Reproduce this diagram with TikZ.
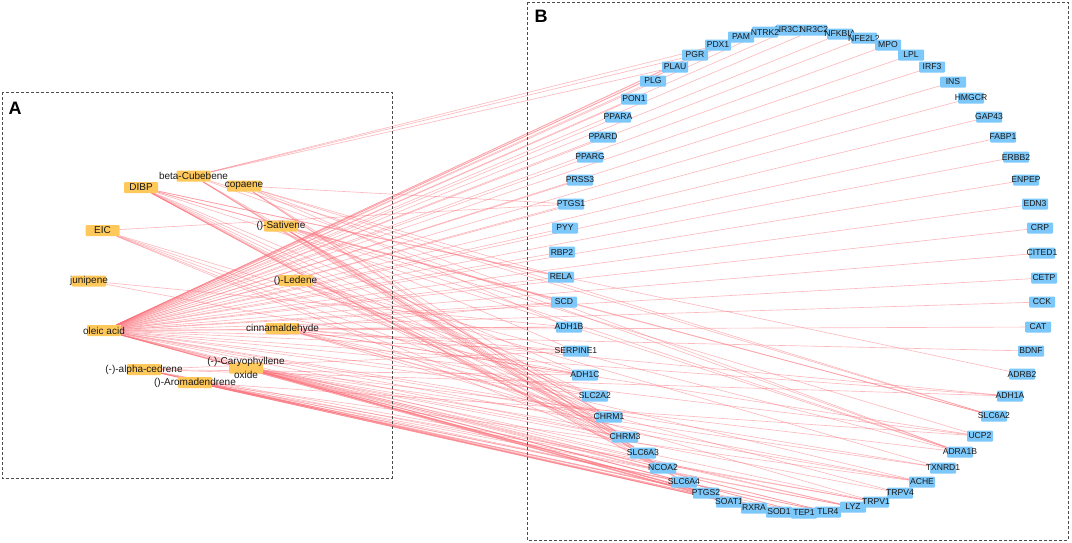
\documentclass[tikz,border=0pt]{standalone}
\usepackage{fontspec}
\setmainfont{Liberation Sans}
\usetikzlibrary{backgrounds}
\definecolor{cOr}{RGB}{255,200,90}
\definecolor{cBl}{RGB}{125,200,250}
\definecolor{cEd}{RGB}{250,110,120}
\definecolor{cTx}{RGB}{25,25,25}
\tikzset{
  cmp/.style={fill=cOr, minimum width=34pt, minimum height=11pt, inner sep=0pt, rounded corners=1pt},
  tgt/.style={fill=cBl, minimum width=26pt, minimum height=11pt, inner sep=0pt, rounded corners=1pt},
  clab/.style={font=\fontsize{10}{14}\selectfont, text=cTx, inner sep=0pt},
  tlab/.style={font=\fontsize{8.6}{10}\selectfont, text=cTx, inner sep=0pt},
  edge/.style={draw=cEd, line width=0.65pt, opacity=0.48},
  frame/.style={draw=black!70, dash pattern=on 3pt off 2pt, line width=0.8pt},
  panel/.style={font=\bfseries\fontsize{18}{18}\selectfont, inner sep=0pt}
}
\newcommand{\tg}[3]{\node[tgt, label={[tlab]center:#1}] (#1) at (#2,#3) {};}
\begin{document}
\begin{tikzpicture}[x=1pt, y=-1pt]
\useasboundingbox (0,0) rectangle (1072,542);
% frames
\draw[frame] (2,92) rectangle (392,478);
\draw[frame] (527,2) rectangle (1068,540);
\node[panel] (labA) at (15,108) {A};
\node[panel] (labB) at (541,16) {B};
% compounds
\node[cmp, label={[clab]center:beta-Cubebene}] (bcub) at (193.5,176) {};
\node[cmp, label={[clab]center:DIBP}] (dibp) at (141,187.5) {};
\node[cmp, label={[clab]center:copaene}] (copa) at (244,186) {};
\node[cmp, label={[clab]center:EIC}] (eic) at (102.5,230.5) {};
\node[cmp, label={[clab]center:{()-Sativene}}] (sati) at (281,226) {};
\node[cmp, label={[clab]center:junipene}] (juni) at (89,281) {};
\node[cmp, label={[clab]center:{()-Ledene}}] (lede) at (295.5,280.5) {};
\node[cmp, label={[clab]center:oleic acid}] (olei) at (104,330.5) {};
\node[cmp, label={[clab]center:cinnamaldehyde}] (cinn) at (282.5,328.5) {};
\node[cmp, label={[clab]center:{(-)-alpha-cedrene}}] (cedr) at (144,369.5) {};
\node[cmp, label={[clab]center:{()-Aromadendrene}}] (arom) at (195,382.5) {};
\node[cmp, label={[clab, align=center]center:{(-)-Caryophyllene\\oxide}}] (cary) at (246,368) {};
% targets
\tg{PDX1}{718}{45}
\tg{PGR}{695}{55}
\tg{PLAU}{675}{67}
\tg{PLG}{653}{81}
\tg{PON1}{634}{99}
\tg{PPARA}{618}{117}
\tg{PPARD}{603}{137}
\tg{PPARG}{590}{157}
\tg{PRSS3}{580}{180}
\tg{PTGS1}{571}{204}
\tg{PYY}{565}{228}
\tg{RBP2}{562}{252}
\tg{RELA}{561}{277}
\tg{SCD}{564}{302}
\tg{ADH1B}{569}{327}
\tg{SERPINE1}{576}{351}
\tg{ADH1C}{585}{375}
\tg{SLC2A2}{595}{396}
\tg{CHRM1}{609}{417}
\tg{CHRM3}{625}{437}
\tg{SLC6A3}{643}{453}
\tg{NCOA2}{663}{468}
\tg{SLC6A4}{684}{482}
\tg{PTGS2}{706}{493}
\tg{SOAT1}{729}{502}
\tg{RXRA}{754}{508}
\tg{SOD1}{779}{512}
\tg{TEP1}{804}{513}
\tg{TLR4}{828}{512}
\tg{LYZ}{853}{507}
\tg{TRPV1}{876}{502}
\tg{TRPV4}{900}{493}
\tg{ACHE}{922}{482}
\tg{TXNRD1}{943}{468}
\tg{ADRA1B}{960}{452}
\tg{UCP2}{980}{436}
\tg{SLC6A2}{994}{416}
\tg{ADH1A}{1010}{396}
\tg{ADRB2}{1022}{374}
\tg{BDNF}{1031}{351}
\tg{CAT}{1038}{327}
\tg{CCK}{1042}{302}
\tg{CETP}{1044}{278}
\tg{CITED1}{1042}{253}
\tg{CRP}{1040}{228}
\tg{EDN3}{1035}{204}
\tg{ENPEP}{1026}{180}
\tg{ERBB2}{1016}{157}
\tg{FABP1}{1003}{137}
\tg{GAP43}{989}{117}
\tg{HMGCR}{971}{98}
\tg{INS}{953}{82}
\tg{IRF3}{932}{67}
\tg{LPL}{911}{55}
\tg{PAM}{741}{37}
\tg{NR3C1}{789}{30}
\tg{NTRK2}{765}{32}
\tg{NR3C2}{814}{30}
\tg{NFKBIA}{840}{34}
\tg{NFE2L2}{864}{38}
\tg{MPO}{888}{45}
% edges
\begin{pgfonlayer}{background}
\foreach \t in {PLG,PON1,PPARA,PPARD,PPARG,PRSS3,PTGS1,PYY,RBP2,RELA,SCD,ADH1B,PLAU,PGR,PDX1,PAM,NTRK2,NR3C1,NR3C2,NFKBIA,NFE2L2,MPO,LPL,IRF3,INS,HMGCR,GAP43,FABP1,ERBB2,ENPEP,EDN3,CRP,CITED1,CETP,CCK,CAT,BDNF,ADH1A,UCP2,SERPINE1,ADH1C,SLC2A2,CHRM1,CHRM3,NCOA2,PTGS2,SOAT1,RXRA,SOD1,TEP1,TLR4,LYZ,ACHE,TXNRD1}
  \draw[edge] (olei) -- (\t);
\foreach \t in {PDX1,PGR,PLAU,CHRM1,CHRM3,SLC6A3,SLC6A2,ADRA1B,NCOA2}
  \draw[edge] (bcub) -- (\t);
\foreach \t in {CHRM1,CHRM3,SLC6A3,SLC6A4,NCOA2,SLC2A2,SLC6A2,ADRA1B,ADRB2,RELA,SCD,ADH1C,PTGS2}
  \draw[edge] (dibp) -- (\t);
\foreach \t in {PTGS1,CHRM1,CHRM3,SLC6A3,SLC6A2,ADRA1B,RELA,ADH1B}
  \draw[edge] (copa) -- (\t);
\foreach \t in {PTGS1,SLC2A2,CHRM1,CHRM3,ADH1C,SLC6A3}
  \draw[edge] (eic) -- (\t);
\foreach \t in {CHRM1,CHRM3,SLC6A3,SLC6A4,SLC6A2,ADRA1B,SERPINE1,UCP2}
  \draw[edge] (sati) -- (\t);
\foreach \t in {ADH1B,ADH1C}
  \draw[edge] (juni) -- (\t);
\foreach \t in {CHRM1,CHRM3,SLC2A2,ADRA1B,TXNRD1,SLC6A3}
  \draw[edge] (lede) -- (\t);
\foreach \t in {SCD,ADH1B,ADH1C,SLC2A2,CHRM1,TRPV1,TRPV4,ACHE,UCP2,ADH1A,SERPINE1}
  \draw[edge] (cinn) -- (\t);
\foreach \t in {NCOA2,SLC6A4,PTGS2,SOAT1,RXRA,SOD1,TEP1,TLR4,LYZ,TRPV1,TRPV4,ACHE,TXNRD1,ADRA1B,CHRM3}
  \draw[edge] (cary) -- (\t);
\foreach \t in {SERPINE1,ADH1C,SOAT1,RXRA,TLR4,LYZ,TRPV1,SOD1,PTGS2,ADH1A}
  \draw[edge] (cedr) -- (\t);
\foreach \t in {SLC6A4,PTGS2,SOAT1,RXRA,SOD1,TEP1,TLR4,LYZ,TRPV1,ACHE,UCP2}
  \draw[edge] (arom) -- (\t);
\end{pgfonlayer}
\end{tikzpicture}
\end{document}
